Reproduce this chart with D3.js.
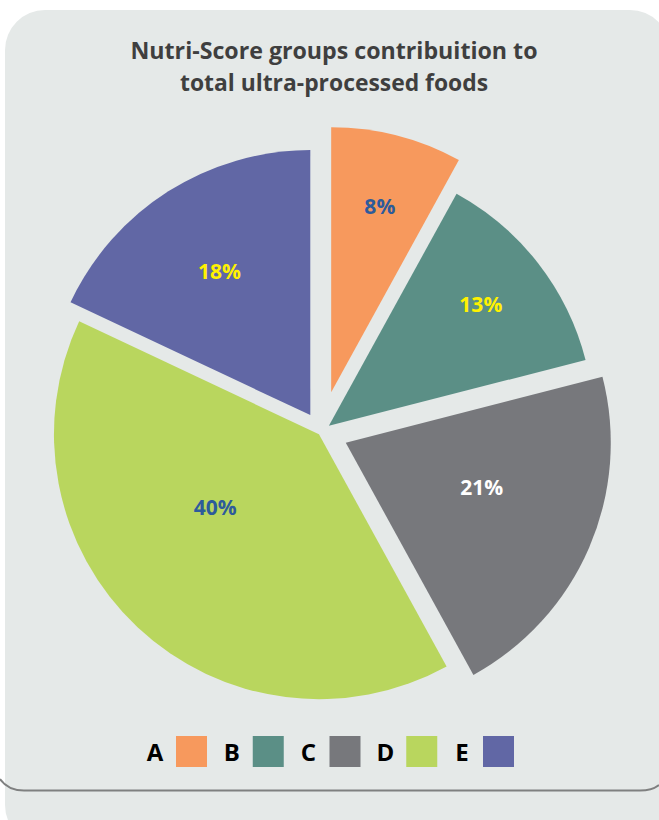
<!DOCTYPE html>
<html>
<head>
<meta charset="utf-8">
<script src="https://cdn.jsdelivr.net/npm/d3@7"></script>
<style>
  html, body { margin: 0; padding: 0; background: #ffffff; }
  svg { display: block; }
</style>
</head>
<body>
<div id="chart"></div>
<script>
// ---- data ----
const categories = ["A", "B", "C", "D", "E"];
const values = [8, 13, 21, 40, 18];
const valueLabels = ["8%", "13%", "21%", "40%", "18%"];
const titleLines = ["Nutri-Score groups contribuition to", "total ultra-processed foods"];

// ---- styles ----
const colors = ["#f7995d", "#5b8f86", "#77787c", "#b9d65e", "#6167a5"];
const labelColors = ["#2d5b9b", "#fff200", "#ffffff", "#2d5b9b", "#fff200"];
const explode = [41, 10, 27, 3, 20];          // px offset of each slice
const labelAngleFrac = [0.51, 0.48, 0.43, 0.58, 0.50];
const labelRadiusFrac = [0.724, 0.735, 0.54, 0.48, 0.64];

const W = 659, H = 820;
const cx = 321, cy = 432, R = 265;

const svg = d3.select("#chart").append("svg")
  .attr("width", W).attr("height", H);

// card background
svg.append("rect")
  .attr("x", 5).attr("y", 10)
  .attr("width", 665).attr("height", 835)
  .attr("rx", 40).attr("ry", 40)
  .attr("fill", "#e5e9e8");

// bottom rule line
svg.append("path")
  .attr("d", "M0,779 Q8,790.5 24,790.5 L640,790.5 Q652,790.5 659,785")
  .attr("fill", "none")
  .attr("stroke", "#7f8080")
  .attr("stroke-width", 2);

// title
const title = svg.append("g")
  .attr("font-family", "'Open Sans', 'DejaVu Sans', sans-serif")
  .attr("font-weight", "bold")
  .attr("font-size", 24)
  .attr("fill", "#3f3f3f")
  .attr("text-anchor", "middle");
const titleLens = [407, 308];
title.selectAll("text").data(titleLines).join("text")
  .attr("x", 334)
  .attr("y", (d, i) => 59 + i * 32)
  .attr("textLength", (d, i) => titleLens[i])
  .attr("lengthAdjust", "spacingAndGlyphs")
  .text(d => d);

// pie
const pie = d3.pie().sort(null).value(d => d.v).startAngle(0).endAngle(2 * Math.PI);
const arcs = pie(values.map((v, i) => ({ v, i })));
const arc = d3.arc().innerRadius(0).outerRadius(R);

const g = svg.append("g").attr("transform", `translate(${cx},${cy})`);

const slice = g.selectAll("g.slice").data(arcs).join("g")
  .attr("class", "slice")
  .attr("transform", d => {
    const m = (d.startAngle + d.endAngle) / 2;
    const e = explode[d.data.i];
    return `translate(${Math.sin(m) * e},${-Math.cos(m) * e})`;
  });

slice.append("path")
  .attr("d", arc)
  .attr("fill", d => colors[d.data.i]);

slice.append("text")
  .attr("transform", d => {
    const i = d.data.i;
    const a = d.startAngle + labelAngleFrac[i] * (d.endAngle - d.startAngle);
    const r = labelRadiusFrac[i] * R;
    return `translate(${Math.sin(a) * r},${-Math.cos(a) * r})`;
  })
  .attr("text-anchor", "middle")
  .attr("dy", "0.36em")
  .attr("font-family", "'Open Sans', 'DejaVu Sans', sans-serif")
  .attr("font-weight", "bold")
  .attr("font-size", 21)
  .attr("fill", d => labelColors[d.data.i])
  .text(d => valueLabels[d.data.i]);

// legend
const legendX = d3.scalePoint().domain(categories).range([155, 462]);
const leg = svg.append("g");
const item = leg.selectAll("g").data(categories).join("g")
  .attr("transform", d => `translate(${legendX(d)},752)`);
item.append("text")
  .attr("text-anchor", "middle")
  .attr("dy", "0.36em")
  .attr("font-family", "'Open Sans', 'DejaVu Sans', sans-serif")
  .attr("font-weight", "bold")
  .attr("font-size", 24)
  .attr("fill", "#000000")
  .text(d => d);
item.append("rect")
  .attr("x", 21).attr("y", -16)
  .attr("width", 31).attr("height", 31)
  .attr("fill", (d, i) => colors[i]);
</script>
</body>
</html>
